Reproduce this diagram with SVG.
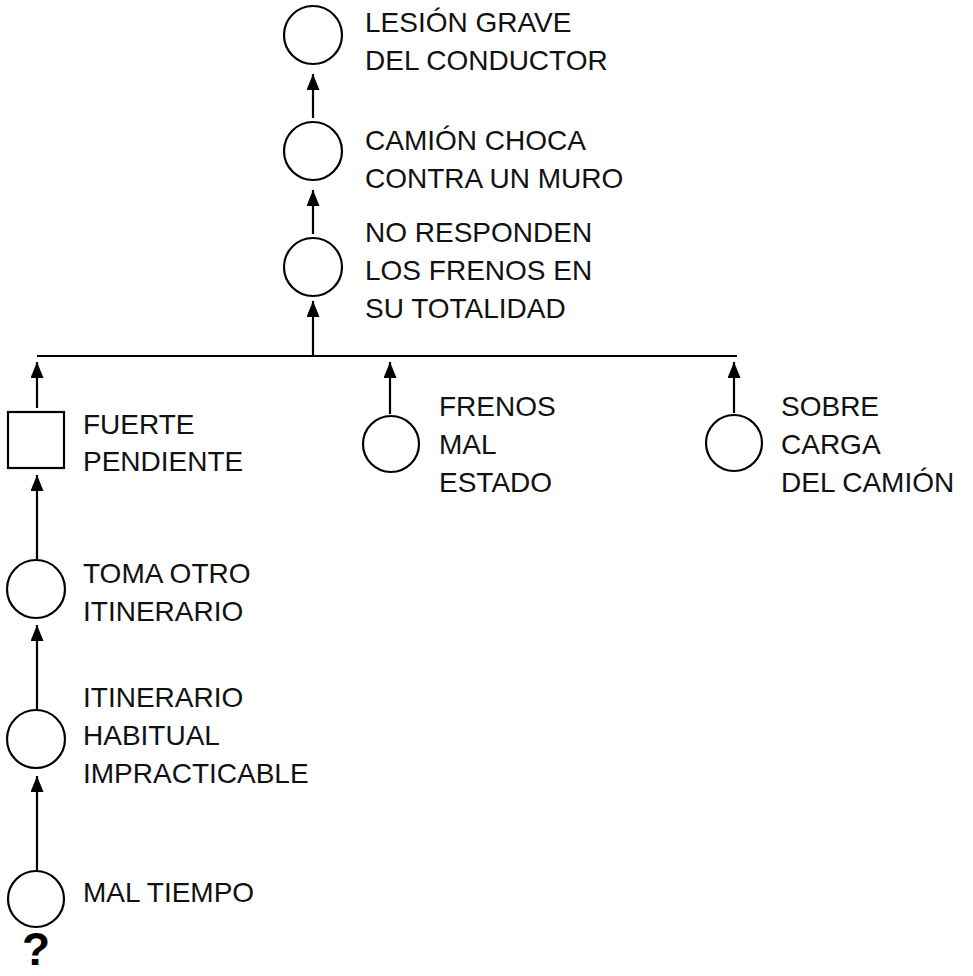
<svg xmlns="http://www.w3.org/2000/svg" width="973" height="976" viewBox="0 0 973 976">
<style>
.n{fill:#fff;stroke:#000;stroke-width:2.2}
.t{font-family:"Liberation Sans",Arial,sans-serif;font-size:28px;fill:#111}
.c{stroke:#000;stroke-width:2.2;fill:none}
</style>
<defs>
<marker id="ah" markerUnits="userSpaceOnUse" markerWidth="16" markerHeight="13" refX="16" refY="6.5" orient="auto">
<path d="M0,0 L16,6.5 L0,13 z" fill="#000"/>
</marker>
</defs>
<rect width="973" height="976" fill="#fff"/>
<g id="connectors">
<line class="c" x1="37" y1="356" x2="737" y2="356"/>
<line class="c" x1="313" y1="118" x2="313" y2="74" marker-end="url(#ah)"/>
<line class="c" x1="313" y1="234" x2="313" y2="190" marker-end="url(#ah)"/>
<line class="c" x1="313" y1="355" x2="313" y2="301" marker-end="url(#ah)"/>
<line class="c" x1="37" y1="408" x2="37" y2="362" marker-end="url(#ah)"/>
<line class="c" x1="37" y1="559" x2="37" y2="475" marker-end="url(#ah)"/>
<line class="c" x1="37" y1="709" x2="37" y2="625" marker-end="url(#ah)"/>
<line class="c" x1="37" y1="870" x2="37" y2="776" marker-end="url(#ah)"/>
<line class="c" x1="390" y1="414" x2="390" y2="362" marker-end="url(#ah)"/>
<line class="c" x1="734" y1="413" x2="734" y2="362" marker-end="url(#ah)"/>
</g>
<g id="lesion">
<circle class="n" cx="313" cy="35" r="29"/>
<text class="t" x="365" y="32">LESIÓN GRAVE</text>
<text class="t" x="365" y="70">DEL CONDUCTOR</text>
</g>
<g id="camion">
<circle class="n" cx="313" cy="151" r="29"/>
<text class="t" x="365" y="150">CAMIÓN CHOCA</text>
<text class="t" x="365" y="188">CONTRA UN MURO</text>
</g>
<g id="frenos-total">
<circle class="n" cx="313" cy="267" r="29"/>
<text class="t" x="365" y="242">NO RESPONDEN</text>
<text class="t" x="365" y="280">LOS FRENOS EN</text>
<text class="t" x="365" y="318">SU TOTALIDAD</text>
</g>
<g id="pendiente">
<rect class="n" x="8" y="412" width="56" height="56"/>
<text class="t" x="83" y="434">FUERTE</text>
<text class="t" x="83" y="471">PENDIENTE</text>
</g>
<g id="frenos-mal">
<circle class="n" cx="391" cy="444" r="28"/>
<text class="t" x="439" y="416">FRENOS</text>
<text class="t" x="439" y="454">MAL</text>
<text class="t" x="439" y="492">ESTADO</text>
</g>
<g id="sobrecarga">
<circle class="n" cx="734" cy="443" r="28"/>
<text class="t" x="781" y="416">SOBRE</text>
<text class="t" x="781" y="454">CARGA</text>
<text class="t" x="781" y="492">DEL CAMIÓN</text>
</g>
<g id="toma">
<circle class="n" cx="36" cy="589" r="29"/>
<text class="t" x="83" y="583">TOMA OTRO</text>
<text class="t" x="83" y="621">ITINERARIO</text>
</g>
<g id="habitual">
<circle class="n" cx="36" cy="739" r="29"/>
<text class="t" x="83" y="707">ITINERARIO</text>
<text class="t" x="83" y="745">HABITUAL</text>
<text class="t" x="83" y="783">IMPRACTICABLE</text>
</g>
<g id="maltiempo">
<circle class="n" cx="36" cy="899" r="28"/>
<text class="t" x="83" y="902">MAL TIEMPO</text>
<text x="36" y="965" text-anchor="middle" style="font-family:'Liberation Sans',Arial,sans-serif;font-size:46px;font-weight:bold;fill:#000">?</text>
</g>
</svg>
